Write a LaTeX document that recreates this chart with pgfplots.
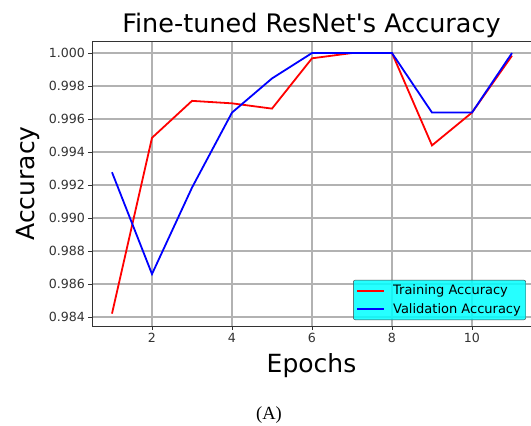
\documentclass[border=0pt]{standalone}
\usepackage{pgfplots}
\pgfplotsset{compat=1.18}
\usepackage{fontspec}
\setmainfont{DejaVu Sans}
\newfontfamily\capfont{Liberation Serif}
\definecolor{aqua}{RGB}{0,255,255}
\begin{document}
\begin{tikzpicture}[x=1pt,y=1pt]
\useasboundingbox (0,0) rectangle (531,426);
\begin{axis}[
  at={(92pt,100pt)}, anchor=south west, scale only axis,
  width=439pt, height=285pt,
  xmin=0.5, xmax=11.475, ymin=0.98345, ymax=1.00073,
  xtick={2,4,6,8,10},
  ytick={0.984,0.986,0.988,0.990,0.992,0.994,0.996,0.998,1.000},
  scaled y ticks=false,
  /pgf/number format/assume math mode=true,
  yticklabel style={/pgf/number format/.cd, fixed, fixed zerofill, precision=3},
  ticklabel style={font=\fontsize{12.6}{15}\selectfont, text=black!80},
  tick pos=left, tick align=outside, major tick length=3.5pt,
  tick style={black!80, line width=0.8pt},
  axis line style={black!80, line width=0.8pt},
  grid=major,
  major grid style={black!30, line width=1.6pt},
  title={Fine-tuned ResNet\textquotesingle s Accuracy},
  title style={at={(axis description cs:0.5,1.0105)}, anchor=base, font=\fontsize{25.5}{30}\selectfont},
  xlabel={Epochs},
  xlabel style={at={(axis description cs:0.5,-0.1649)}, anchor=base, font=\fontsize{25}{30}\selectfont},
  ylabel={Accuracy},
  ylabel style={at={(axis description cs:-0.1321,0.5)}, anchor=base, font=\fontsize{25}{30}\selectfont},
  legend style={at={(axis description cs:0.9886,0.021)}, anchor=south east,
    fill=aqua, fill opacity=0.85, text opacity=1, draw=black!75, draw opacity=1,
    rounded corners=2pt,
    font=\fontsize{13}{15}\selectfont, row sep=3pt, inner sep=3pt},
  legend cell align=left,
  legend image post style={line width=1.8pt},
  legend image code/.code={\draw[#1, line width=1.8pt, draw opacity=1, sharp corners] (0pt,0pt) -- (27pt,0pt); \path (33pt,0pt);},
]
\addplot[red, line width=1.8pt] coordinates {
 (1,0.98420) (2,0.99486) (3,0.99710) (4,0.99695) (5,0.99663) (6,0.99968)
 (7,1.00000) (8,1.00000) (9,0.99440) (10,0.99639) (11,0.99984)};
\addlegendentry{Training Accuracy}
\addplot[blue, line width=1.8pt] coordinates {
 (1,0.99277) (2,0.98660) (3,0.99184) (4,0.99639) (5,0.99846) (6,1.00000)
 (7,1.00000) (8,1.00000) (9,0.99639) (10,0.99639) (11,1.00000)};
\addlegendentry{Validation Accuracy}
\end{axis}
\node[font=\capfont\fontsize{18.5}{20}\selectfont] at (269,11) {(A)};
\end{tikzpicture}
\end{document}
